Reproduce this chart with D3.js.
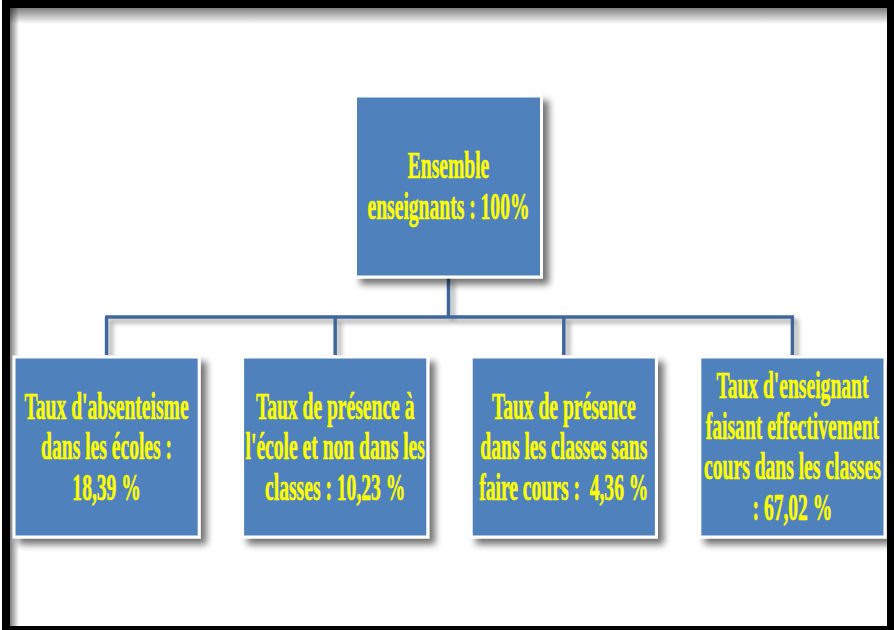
<!DOCTYPE html>
<html><head><meta charset="utf-8">
<script src="https://cdn.jsdelivr.net/npm/d3@7"></script>
<style>html,body{margin:0;padding:0;background:#fff;overflow:hidden}</style>
</head><body>
<svg id="c" width="894" height="630"></svg>
<script>
// ---- data ----
const rootLabel = ["Ensemble", "enseignants : {v}%"];
const rootValue = 100;
const categories = [
  "Taux d'absenteisme dans les écoles",
  "Taux de présence à l'école et non dans les classes",
  "Taux de présence dans les classes sans faire cours",
  "Taux d'enseignant faisant effectivement cours dans les classes"
];
const values = [18.39, 10.23, 4.36, 67.02];
const labelLines = [
  ["Taux d'absenteisme", "dans les écoles :", "{v} %"],
  ["Taux de présence à", "l'école et non dans les", "classes : {v} %"],
  ["Taux de présence", "dans les classes sans", "faire cours :  {v} %"],
  ["Taux d'enseignant", "faisant effectivement", "cours dans les classes", ": {v} %"]
];

// ---- setup ----
const W = 894, H = 630;
const svg = d3.select("#c");
const fr = d3.formatLocale({decimal: ",", thousands: " ", grouping: [3], currency: ["", "€"]});
const f2 = fr.format(".2f");
const f0 = fr.format("d");

const rootData = {name: "Ensemble enseignants", value: rootValue, lines: rootLabel.map(l => l.replace("{v}", f0(rootValue))),
  children: categories.map((c, i) => ({name: c, value: values[i], lines: labelLines[i].map(l => l.replace("{v}", f2(values[i])))}))};
const root = d3.hierarchy(rootData);

const defs = svg.append("defs");
const sh = defs.append("filter").attr("id", "sh").attr("x", "-20%").attr("y", "-20%").attr("width", "150%").attr("height", "150%");
sh.append("feGaussianBlur").attr("in", "SourceAlpha").attr("stdDeviation", 3.5).attr("result", "b");
sh.append("feOffset").attr("in", "b").attr("dx", 6).attr("dy", 6).attr("result", "o");
sh.append("feComponentTransfer").attr("in", "o").attr("result", "o2")
  .append("feFuncA").attr("type", "linear").attr("slope", 0.55);
const m = sh.append("feMerge");
m.append("feMergeNode").attr("in", "o2");
m.append("feMergeNode").attr("in", "SourceGraphic");

const shl = defs.append("filter").attr("id", "shl").attr("x", "-20%").attr("y", "-50%").attr("width", "150%").attr("height", "250%");
shl.append("feGaussianBlur").attr("in", "SourceAlpha").attr("stdDeviation", 2.5).attr("result", "b");
shl.append("feOffset").attr("in", "b").attr("dx", 4).attr("dy", 4).attr("result", "o");
shl.append("feComponentTransfer").attr("in", "o").attr("result", "o2")
  .append("feFuncA").attr("type", "linear").attr("slope", 0.4);
const m2 = shl.append("feMerge");
m2.append("feMergeNode").attr("in", "o2");
m2.append("feMergeNode").attr("in", "SourceGraphic");

const gt = defs.append("linearGradient").attr("id", "gt").attr("x1", 0).attr("y1", 0).attr("x2", 0).attr("y2", 1);
gt.append("stop").attr("offset", 0).attr("stop-color", "#000").attr("stop-opacity", 0.5);
gt.append("stop").attr("offset", 1).attr("stop-color", "#000").attr("stop-opacity", 0);
const gl = defs.append("linearGradient").attr("id", "gl").attr("x1", 0).attr("y1", 0).attr("x2", 1).attr("y2", 0);
gl.append("stop").attr("offset", 0).attr("stop-color", "#000").attr("stop-opacity", 0.5);
gl.append("stop").attr("offset", 1).attr("stop-color", "#000").attr("stop-opacity", 0);

// ---- frame ----
svg.append("rect").attr("x", 2).attr("y", 0).attr("width", W - 2).attr("height", H).attr("fill", "#000");
svg.append("rect").attr("x", 10).attr("y", 8).attr("width", 877).attr("height", 618).attr("fill", "#fff");
svg.append("rect").attr("x", 10).attr("y", 8).attr("width", 877).attr("height", 16).attr("fill", "url(#gt)");
svg.append("rect").attr("x", 10).attr("y", 8).attr("width", 9).attr("height", 618).attr("fill", "url(#gl)");

// ---- scales ----
const boxW = 186, boxH = 181;
const x = d3.scaleBand().domain(categories).range([14, 885]).paddingInner(0.19).paddingOuter(0);
const yTop = d3.scaleLinear().domain([0, 1]).range([96, 357]);

root.children.forEach(d => { d.cx = x(d.data.name) + x.bandwidth() / 2; d.w = x.bandwidth(); });
root.cx = d3.mean(root.children, d => d.cx) - 1;
root.w = boxW;
root.descendants().forEach(d => { d.top = yTop(d.depth); d.h = d.depth ? 180 : boxH; });

// ---- connectors ----
const lineColor = "#41669A";
const busY = 317;
const lg = svg.append("g").attr("filter", "url(#shl)").attr("fill", "none").attr("stroke", lineColor).attr("stroke-width", 3.5);
lg.append("line").attr("x1", root.cx).attr("x2", root.cx).attr("y1", root.top + root.h).attr("y2", busY);
lg.append("line").attr("x1", d3.min(root.children, d => d.cx) - 1.5).attr("x2", d3.max(root.children, d => d.cx) + 1.5).attr("y1", busY).attr("y2", busY);
lg.selectAll("line.drop").data(root.children).join("line").attr("class", "drop")
  .attr("x1", d => d.cx).attr("x2", d => d.cx).attr("y1", busY).attr("y2", d => d.top - 2);

// ---- boxes ----
const fs = 38, lh = 40.5, sx = 0.515;
const nodes = svg.selectAll("g.node").data(root.descendants()).join("g").attr("class", "node");
nodes.append("rect")
  .attr("x", d => d.cx - d.w / 2).attr("y", d => d.top).attr("width", d => d.w).attr("height", d => d.h)
  .attr("fill", "#4F81BD").attr("stroke", "#fff").attr("stroke-width", 3).attr("filter", "url(#sh)");
nodes.each(function(d) {
  const g = d3.select(this);
  const cy = d.top + d.h / 2;
  const n = d.data.lines.length;
  d.data.lines.forEach((t, i) => {
    g.append("text")
      .attr("transform", `translate(${d.cx},${cy + (i - (n - 1) / 2) * lh + 12}) scale(${sx},1)`)
      .attr("text-anchor", "middle")
      .style("white-space", "pre")
      .attr("font-family", "'Liberation Serif','Times New Roman',serif")
      .attr("font-weight", "bold")
      .attr("font-size", fs)
      .attr("fill", "#FFFF00")
      .attr("stroke", "#FFFF00")
      .attr("stroke-width", 0.6)
      .text(t);
  });
});
</script>
</body></html>
